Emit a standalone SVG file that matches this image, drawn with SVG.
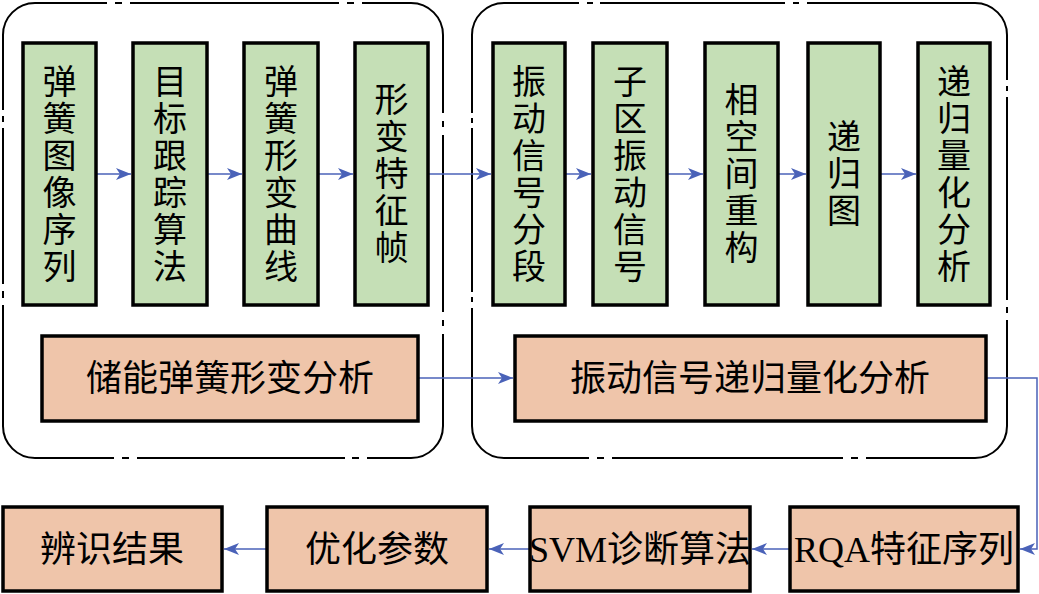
<svg xmlns="http://www.w3.org/2000/svg" width="1039" height="594" viewBox="0 0 1039 594">
<defs>
<marker id="arr" markerUnits="userSpaceOnUse" markerWidth="16" markerHeight="12" refX="15" refY="6" orient="auto">
<path d="M0,0 L15,6 L0,12 L4,6 Z" fill="#4a62b8"/>
</marker>
<style>
.cont{fill:none;stroke:#000;stroke-width:2}
.g{fill:#c5dfb6;stroke:#000;stroke-width:3.5}
.s{fill:#efc5aa;stroke:#000;stroke-width:3.5}
.t{font-family:"Liberation Serif","Noto Sans CJK SC",serif;fill:#000;text-anchor:middle}
.v{font-size:34px}
.h{font-size:36px}
.c{fill:none;stroke:#4a62b8;stroke-width:1.5}
</style>
</defs>
<rect width="1039" height="594" fill="#fff"/>
<g id="container-left">
<path class="cont" d="M35,3 H107 M115,3 H122 M130,3 H339 M347,3 H354 M362,3 H411 M411,3 A32,32 0 0 1 443,35 M443,35 V113 M443,121 V127 M443,135 V312 M443,320 V326 M443,334 V426 M443,426 A32,32 0 0 1 411,458 M411,458 H367 M359,458 H352 M345,458 H137 M129,458 H122 M114,458 H35 M35,458 A32,32 0 0 1 3,426 M3,426 V305 M3,298 V291 M3,284 V128 M3,122 V116 M3,110 V35 M3,35 A32,32 0 0 1 35,3"/>
</g>
<g id="container-right">
<path class="cont" d="M504,3 H579 M587,3 H593 M600,3 H785 M793,3 H799 M807,3 H975 M975,3 A32,32 0 0 1 1007,35 M1007,35 V80 M1007,86 V91 M1007,97 V300 M1007,307 V313 M1007,320 V426 M1007,426 A32,32 0 0 1 975,458 M975,458 H866 M858,458 H851 M843,458 H612 M604,458 H597 M589,458 H504 M504,458 A32,32 0 0 1 472,426 M472,426 V308 M472,302 V297 M472,292 V128 M472,123 V118 M472,113 V35 M472,35 A32,32 0 0 1 504,3"/>
</g>
<g id="connectors">
<line class="c" x1="96" y1="174" x2="131" y2="174" marker-end="url(#arr)"/>
<line class="c" x1="207" y1="174" x2="242" y2="174" marker-end="url(#arr)"/>
<line class="c" x1="318" y1="174" x2="353" y2="174" marker-end="url(#arr)"/>
<line class="c" x1="428" y1="174" x2="491" y2="174" marker-end="url(#arr)"/>
<line class="c" x1="565" y1="174" x2="591" y2="174" marker-end="url(#arr)"/>
<line class="c" x1="667" y1="174" x2="703" y2="174" marker-end="url(#arr)"/>
<line class="c" x1="778" y1="174" x2="806" y2="174" marker-end="url(#arr)"/>
<line class="c" x1="880" y1="174" x2="916" y2="174" marker-end="url(#arr)"/>
<line class="c" x1="418" y1="378" x2="513" y2="378" marker-end="url(#arr)"/>
<polyline class="c" points="986,378 1037,378 1037,549 1020,549" marker-end="url(#arr)"/>
<line class="c" x1="790" y1="549" x2="752" y2="549" marker-end="url(#arr)"/>
<line class="c" x1="530" y1="549" x2="489" y2="549" marker-end="url(#arr)"/>
<line class="c" x1="267" y1="549" x2="224" y2="549" marker-end="url(#arr)"/>
</g>
<g id="n1"><rect class="g" x="23" y="43" width="73" height="262"/>
<text class="t v"><tspan x="59.5" y="94">弹</tspan><tspan x="59.5" y="131">簧</tspan><tspan x="59.5" y="168">图</tspan><tspan x="59.5" y="205">像</tspan><tspan x="59.5" y="242">序</tspan><tspan x="59.5" y="279">列</tspan></text></g>
<g id="n2"><rect class="g" x="133" y="43" width="74" height="262"/>
<text class="t v"><tspan x="170" y="94">目</tspan><tspan x="170" y="131">标</tspan><tspan x="170" y="168">跟</tspan><tspan x="170" y="205">踪</tspan><tspan x="170" y="242">算</tspan><tspan x="170" y="279">法</tspan></text></g>
<g id="n3"><rect class="g" x="244" y="43" width="74" height="262"/>
<text class="t v"><tspan x="281" y="94">弹</tspan><tspan x="281" y="131">簧</tspan><tspan x="281" y="168">形</tspan><tspan x="281" y="205">变</tspan><tspan x="281" y="242">曲</tspan><tspan x="281" y="279">线</tspan></text></g>
<g id="n4"><rect class="g" x="355" y="43" width="73" height="262"/>
<text class="t v"><tspan x="391.5" y="112">形</tspan><tspan x="391.5" y="149">变</tspan><tspan x="391.5" y="186">特</tspan><tspan x="391.5" y="223">征</tspan><tspan x="391.5" y="260">帧</tspan></text></g>
<g id="n5"><rect class="g" x="493" y="43" width="72" height="262"/>
<text class="t v"><tspan x="529" y="94">振</tspan><tspan x="529" y="131">动</tspan><tspan x="529" y="168">信</tspan><tspan x="529" y="205">号</tspan><tspan x="529" y="242">分</tspan><tspan x="529" y="279">段</tspan></text></g>
<g id="n6"><rect class="g" x="593" y="43" width="74" height="262"/>
<text class="t v"><tspan x="630" y="94">子</tspan><tspan x="630" y="131">区</tspan><tspan x="630" y="168">振</tspan><tspan x="630" y="205">动</tspan><tspan x="630" y="242">信</tspan><tspan x="630" y="279">号</tspan></text></g>
<g id="n7"><rect class="g" x="705" y="43" width="73" height="262"/>
<text class="t v"><tspan x="741.5" y="112">相</tspan><tspan x="741.5" y="149">空</tspan><tspan x="741.5" y="186">间</tspan><tspan x="741.5" y="223">重</tspan><tspan x="741.5" y="260">构</tspan></text></g>
<g id="n8"><rect class="g" x="808" y="43" width="72" height="262"/>
<text class="t v"><tspan x="844" y="149">递</tspan><tspan x="844" y="186">归</tspan><tspan x="844" y="223">图</tspan></text></g>
<g id="n9"><rect class="g" x="918" y="43" width="72" height="262"/>
<text class="t v"><tspan x="954" y="94">递</tspan><tspan x="954" y="131">归</tspan><tspan x="954" y="168">量</tspan><tspan x="954" y="205">化</tspan><tspan x="954" y="242">分</tspan><tspan x="954" y="279">析</tspan></text></g>
<g id="n10"><rect class="s" x="42" y="336" width="376" height="85"/>
<text class="t h" x="230" y="391">储能弹簧形变分析</text></g>
<g id="n11"><rect class="s" x="515" y="336" width="471" height="85"/>
<text class="t h" x="750" y="391">振动信号递归量化分析</text></g>
<g id="n12"><rect class="s" x="790" y="507" width="228" height="84"/>
<text class="t h" x="904" y="562">RQA特征序列</text></g>
<g id="n13"><rect class="s" x="530" y="507" width="220" height="84"/>
<text class="t h" x="640" y="562">SVM诊断算法</text></g>
<g id="n14"><rect class="s" x="267" y="507" width="220" height="84"/>
<text class="t h" x="377" y="562">优化参数</text></g>
<g id="n15"><rect class="s" x="3" y="507" width="219" height="84"/>
<text class="t h" x="112" y="562">辨识结果</text></g>
</svg>
